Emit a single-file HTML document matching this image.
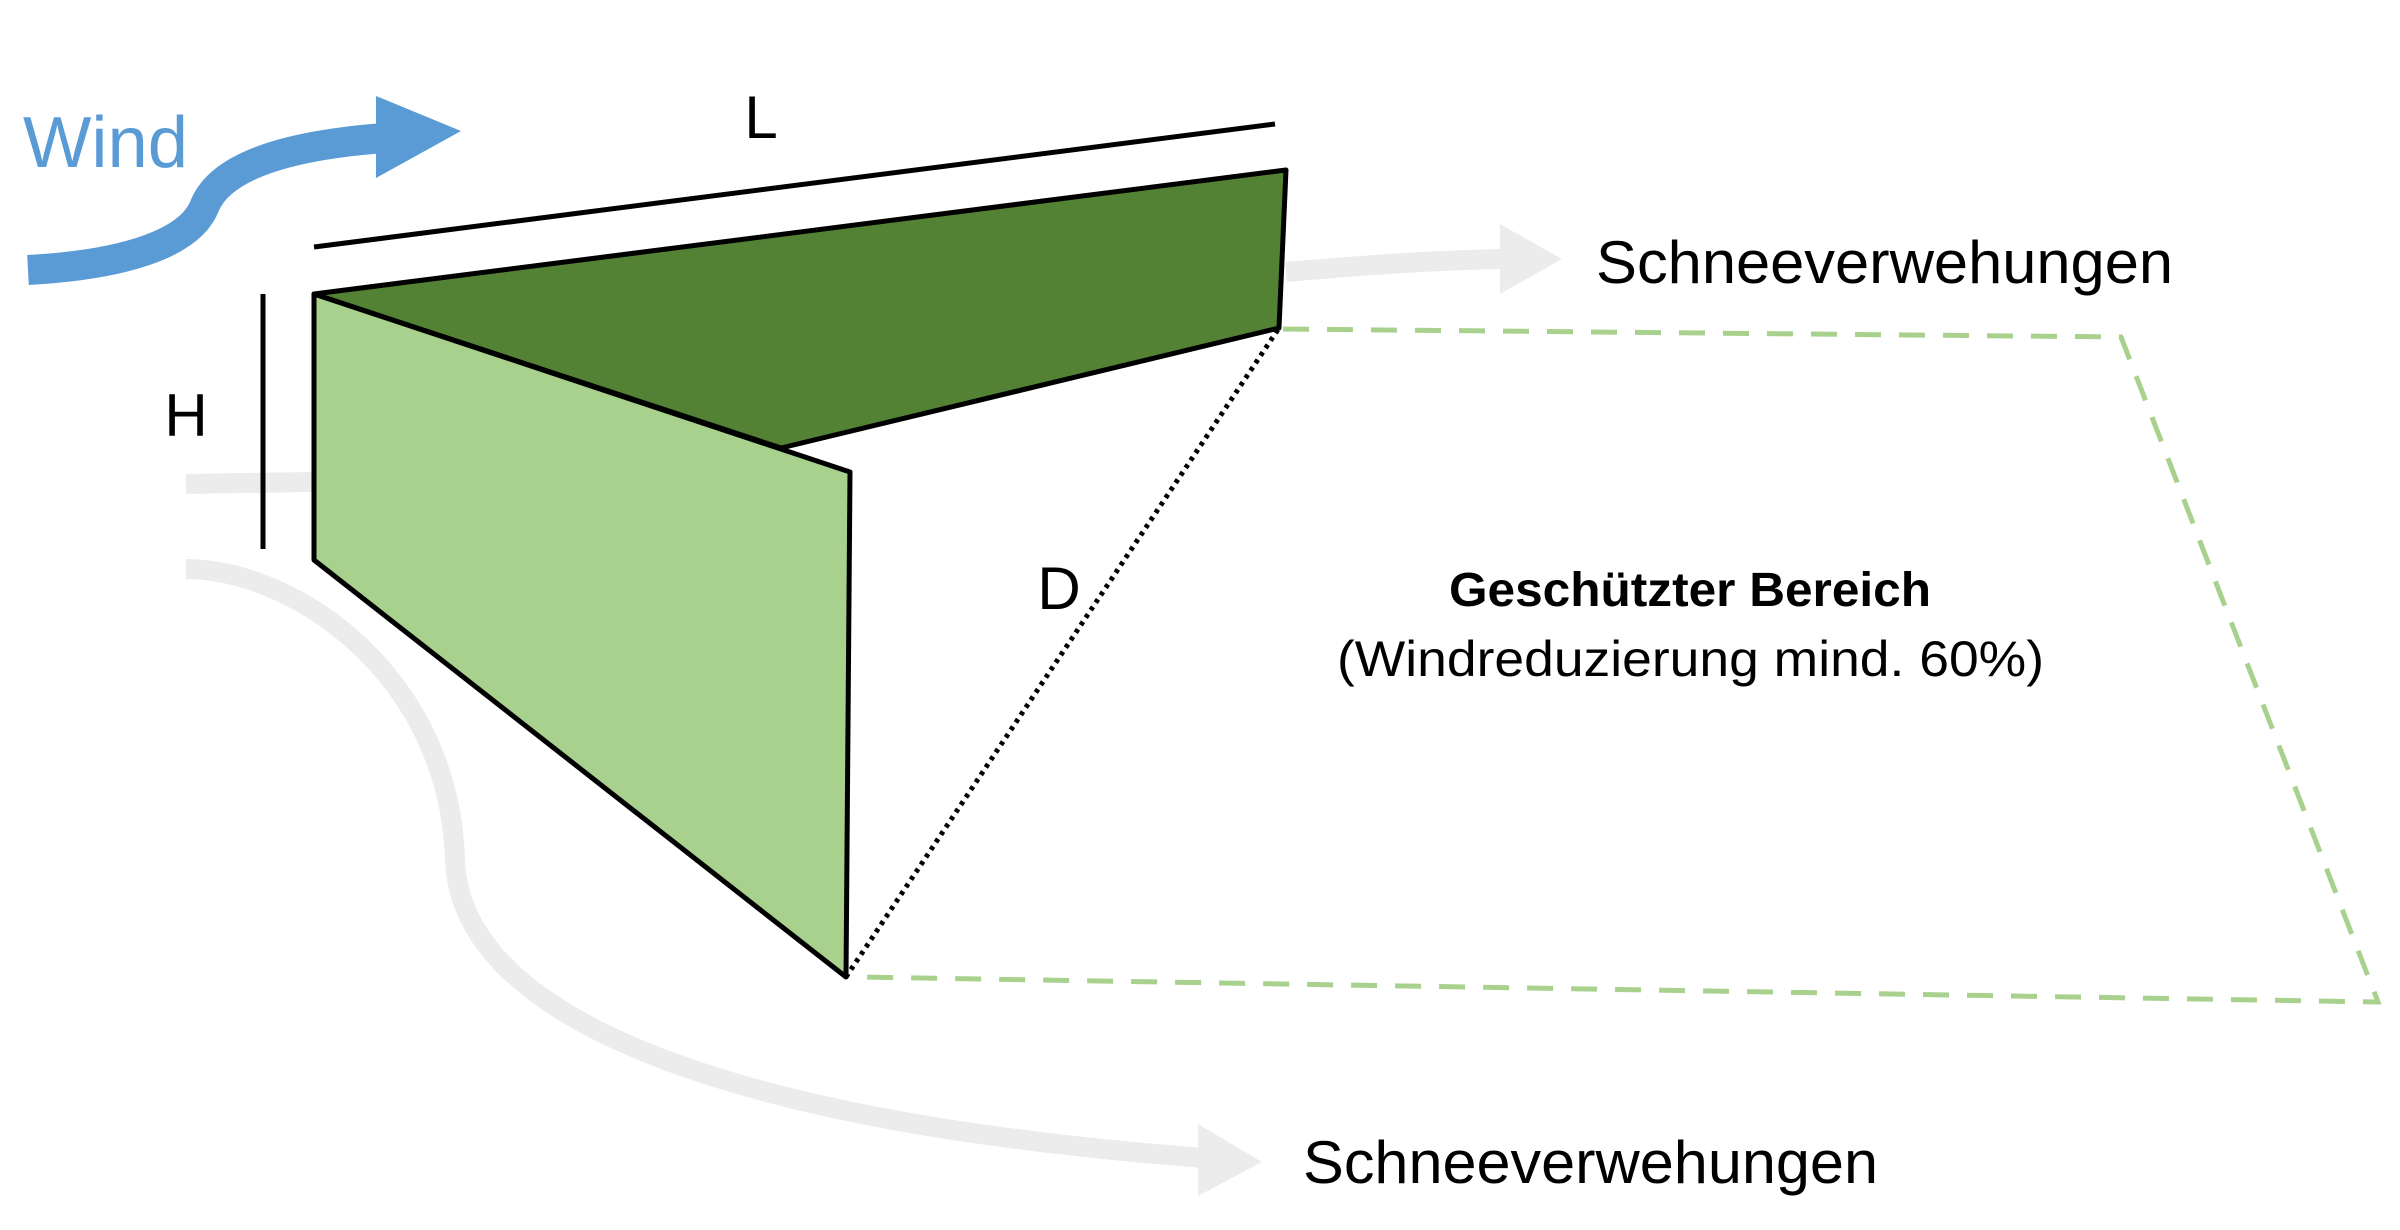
<!DOCTYPE html>
<html><head><meta charset="utf-8"><style>html,body{margin:0;padding:0;background:#fff}svg{display:block}</style></head>
<body>
<svg width="2400" height="1230" viewBox="0 0 2400 1230" xmlns="http://www.w3.org/2000/svg" font-family="'Liberation Sans', sans-serif">
<!-- gray flow arrows -->
<line x1="186" y1="484" x2="314" y2="482" stroke="#ececec" stroke-width="20"/>
<path d="M186,569 C300,570 450,680 455,860 C460,1010 700,1120 1205,1158" fill="none" stroke="#ececec" stroke-width="20"/>
<polygon points="1198,1124 1262,1162 1198,1196" fill="#ececec"/>
<path d="M1286,272 C1380,264 1440,260 1505,259" fill="none" stroke="#ececec" stroke-width="20"/>
<polygon points="1500,224 1562,259 1500,294" fill="#ececec"/>
<!-- blue wind arrow -->
<path d="M28,270 C120,265 190,245 205,205 C222,165 290,145 385,138" fill="none" stroke="#5b9bd5" stroke-width="30"/>
<polygon points="376,96 461,131 376,178" fill="#5b9bd5"/>
<text x="23" y="167" font-size="72" fill="#5b9bd5" textLength="165" lengthAdjust="spacingAndGlyphs">Wind</text>
<!-- dashed protected area -->
<polyline points="1283,329 2121,337 2378,1002 858,977" fill="none" stroke="#a9d18e" stroke-width="5" stroke-dasharray="26,18"/>
<!-- walls -->
<polygon points="314,294 1286,170 1279,328 781,448" fill="#548235" stroke="#000" stroke-width="5" stroke-linejoin="round"/>
<polygon points="314,294 850,472 846,977 314,560" fill="#a9d18e" stroke="#000" stroke-width="5" stroke-linejoin="round"/>
<line x1="846" y1="977" x2="1279" y2="328" stroke="#000" stroke-width="5" stroke-dasharray="4,5"/>
<!-- dimension lines -->
<line x1="314" y1="247" x2="1275" y2="124" stroke="#000" stroke-width="5"/>
<line x1="263" y1="294" x2="263" y2="549" stroke="#000" stroke-width="5"/>
<text x="761" y="138" font-size="60" text-anchor="middle">L</text>
<text x="186" y="436" font-size="60" text-anchor="middle">H</text>
<text x="1059" y="609" font-size="60" text-anchor="middle">D</text>
<!-- labels -->
<text x="1596" y="283" font-size="60" textLength="577" lengthAdjust="spacingAndGlyphs">Schneeverwehungen</text>
<text x="1303" y="1183" font-size="60" textLength="575" lengthAdjust="spacingAndGlyphs">Schneeverwehungen</text>
<text x="1449" y="606" font-size="48" font-weight="bold" textLength="482" lengthAdjust="spacingAndGlyphs">Geschützter Bereich</text>
<text x="1337" y="676" font-size="50" textLength="707" lengthAdjust="spacingAndGlyphs">(Windreduzierung mind. 60%)</text>
</svg>
</body></html>
